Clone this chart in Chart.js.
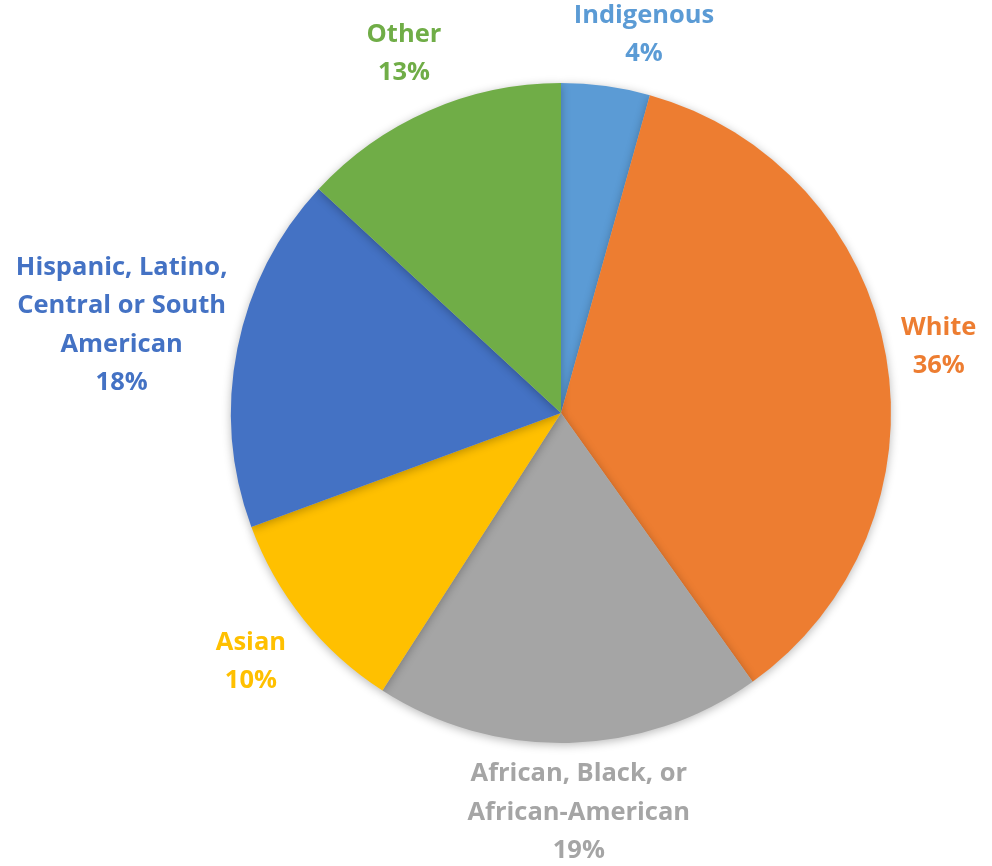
<!DOCTYPE html>
<html>
<head>
<meta charset="utf-8">
<script src="https://cdn.jsdelivr.net/npm/chart.js@4"></script>
<style>
    html, body { margin: 0; padding: 0; background: #fff; }
    #wrap { width: 992px; height: 866px; }
</style>
</head>
<body>
<div id="wrap"><canvas id="pieChart" width="992" height="866"></canvas></div>
<script>
const categories = [
    ['Indigenous'],
    ['White'],
    ['African, Black, or', 'African-American'],
    ['Asian'],
    ['Hispanic, Latino,', 'Central or South', 'American'],
    ['Other']
];
const shares = [4.34, 35.8, 18.96, 10.28, 17.5, 13.12];
const percentLabels = ['4%', '36%', '19%', '10%', '18%', '13%'];
const sliceColors = ['#5B9BD5', '#ED7D31', '#A5A5A5', '#FFC000', '#4472C4', '#70AD47'];

const LINE_H = 38.5;
const LABEL_FONT = 'bold 25.5px "Open Sans", sans-serif';
const LABEL_GAP = 16;

const pieShadow = {
    id: 'pieShadow',
    beforeDatasetsDraw(chart) {
        const ctx = chart.ctx;
        ctx.save();
        ctx.shadowColor = 'rgba(0,0,0,0.28)';
        ctx.shadowBlur = 10;
        ctx.shadowOffsetX = 0;
        ctx.shadowOffsetY = 2;
    },
    afterDatasetsDraw(chart) {
        chart.ctx.restore();
    }
};

// distance from pie centre to the nearest point of any text line box
function nearest(arc, cx, cy, widths, h) {
    let best = Infinity;
    widths.forEach((lw, j) => {
        const top = cy - h / 2 + j * LINE_H;
        const px = Math.min(Math.max(arc.x, cx - lw / 2), cx + lw / 2);
        const py = Math.min(Math.max(arc.y, top), top + LINE_H);
        best = Math.min(best, Math.hypot(px - arc.x, py - arc.y));
    });
    return best;
}

// place each label block on the slice's mid ray, pushed out until it clears the pie
const outsideLabels = {
    id: 'outsideLabels',
    afterDraw(chart) {
        const ctx = chart.ctx;
        const meta = chart.getDatasetMeta(0);
        const H = chart.height;
        ctx.save();
        ctx.font = LABEL_FONT;
        ctx.textAlign = 'center';
        ctx.textBaseline = 'middle';
        meta.data.forEach((arc, i) => {
            const lines = categories[i].concat(percentLabels[i]);
            const mid = (arc.startAngle + arc.endAngle) / 2;
            const cos = Math.cos(mid);
            const sin = Math.sin(mid);
            const clear = arc.outerRadius + LABEL_GAP;
            const widths = lines.map(l => ctx.measureText(l).width);
            const h = lines.length * LINE_H;
            const minY = h / 2 - 4;
            const maxY = H - h / 2 + 4;
            let cx = arc.x, cy = arc.y;
            for (let d = clear; d < clear + 400; d += 0.5) {
                cx = arc.x + cos * d;
                cy = Math.min(Math.max(arc.y + sin * d, minY), maxY);
                if (nearest(arc, cx, cy, widths, h) >= clear) break;
            }
            ctx.fillStyle = sliceColors[i];
            lines.forEach((l, j) => {
                ctx.fillText(l, cx, cy - h / 2 + LINE_H * (j + 0.5));
            });
        });
        ctx.restore();
    }
};

new Chart(document.getElementById('pieChart'), {
    type: 'pie',
    data: {
        labels: categories.map(c => c.join(' ')),
        datasets: [{
            data: shares,
            backgroundColor: sliceColors,
            borderWidth: 0
        }]
    },
    options: {
        responsive: false,
        animation: false,
        layout: {
            padding: { top: 83, bottom: 123, left: 231, right: 101 }
        },
        plugins: {
            legend: { display: false },
            tooltip: { enabled: false }
        }
    },
    plugins: [pieShadow, outsideLabels]
});
</script>
</body>
</html>
